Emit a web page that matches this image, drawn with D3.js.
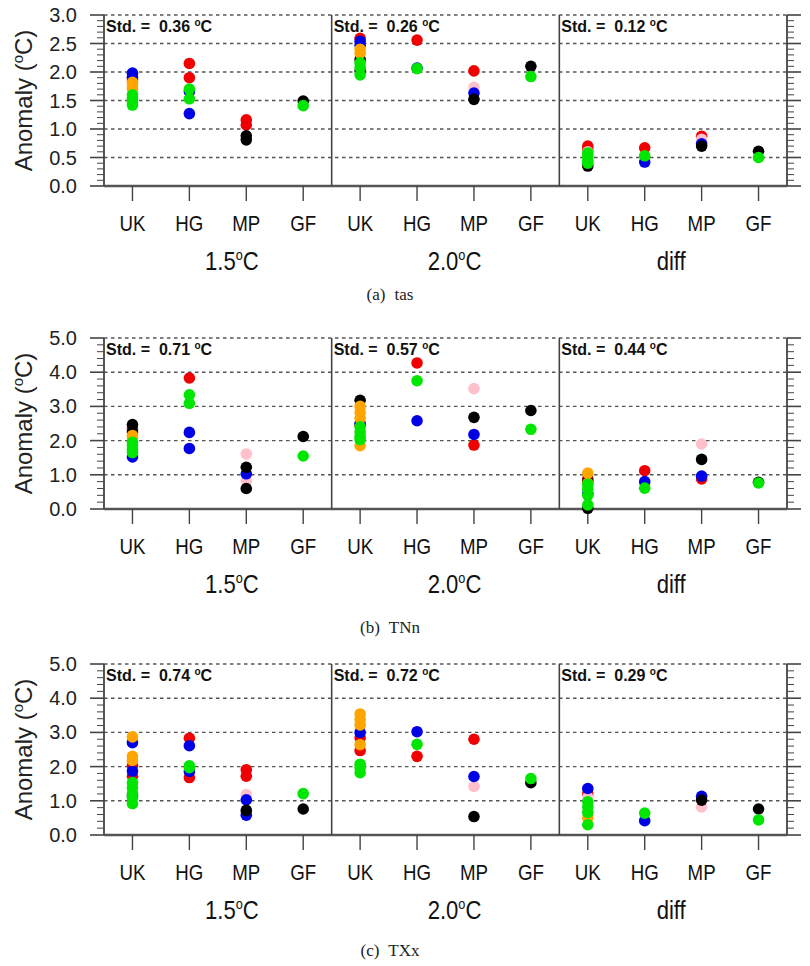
<!DOCTYPE html>
<html>
<head>
<meta charset="utf-8">
<script src="https://cdn.jsdelivr.net/npm/d3@7"></script>
<style>
  html, body { margin: 0; padding: 0; background: #fff; }
  svg { display: block; }
</style>
</head>
<body>
<script>
// ---------------- DATA ----------------
const categories = ["UK", "HG", "MP", "GF"];
const groups = [["1.5", "C"], ["2.0", "C"], ["diff", ""]];
const seriesColors = {
  red: "#f00000", pink: "#ffc0cb", blue: "#0000e6",
  black: "#000000", orange: "#ffa500", green: "#00e600"
};
const drawOrder = ["red", "pink", "blue", "black", "orange", "green"];

// [group index, category, series, value]
const tasValues = [
  [0,"UK","blue",1.98],[0,"UK","blue",1.91],[0,"UK","red",1.86],[0,"UK","orange",1.82],[0,"UK","orange",1.76],[0,"UK","orange",1.70],
  [0,"UK","green",1.60],[0,"UK","green",1.54],[0,"UK","green",1.48],[0,"UK","green",1.42],
  [0,"HG","red",2.15],[0,"HG","red",1.90],[0,"HG","blue",1.66],[0,"HG","green",1.70],[0,"HG","green",1.53],[0,"HG","blue",1.27],
  [0,"MP","red",1.16],[0,"MP","red",1.07],[0,"MP","black",0.88],[0,"MP","black",0.81],
  [0,"GF","black",1.49],[0,"GF","green",1.41],
  [1,"UK","red",2.59],[1,"UK","blue",2.54],[1,"UK","blue",2.47],[1,"UK","orange",2.40],[1,"UK","orange",2.33],[1,"UK","black",2.22],
  [1,"UK","green",2.16],[1,"UK","green",2.08],[1,"UK","black",2.02],[1,"UK","green",1.95],
  [1,"HG","red",2.56],[1,"HG","blue",2.07],[1,"HG","green",2.06],
  [1,"MP","red",2.02],[1,"MP","pink",1.73],[1,"MP","blue",1.63],[1,"MP","black",1.52],
  [1,"GF","black",2.10],[1,"GF","green",1.92],
  [2,"UK","red",0.70],[2,"UK","red",0.64],[2,"UK","pink",0.60],[2,"UK","green",0.58],[2,"UK","green",0.52],[2,"UK","black",0.35],
  [2,"UK","green",0.45],[2,"UK","green",0.40],
  [2,"HG","red",0.67],[2,"HG","green",0.53],[2,"HG","blue",0.42],
  [2,"MP","red",0.87],[2,"MP","pink",0.82],[2,"MP","blue",0.74],[2,"MP","black",0.70],
  [2,"GF","black",0.61],[2,"GF","green",0.50]
];
const tnnValues = [
  [0,"UK","black",2.47],[0,"UK","red",2.35],[0,"UK","black",2.25],[0,"UK","orange",2.15],[0,"UK","orange",2.08],[0,"UK","green",1.95],
  [0,"UK","green",1.85],[0,"UK","green",1.74],[0,"UK","green",1.65],[0,"UK","blue",1.52],
  [0,"HG","red",3.83],[0,"HG","green",3.34],[0,"HG","green",3.09],[0,"HG","blue",2.24],[0,"HG","blue",1.77],
  [0,"MP","pink",1.61],[0,"MP","black",1.22],[0,"MP","blue",1.03],[0,"MP","pink",0.82],[0,"MP","black",0.60],
  [0,"GF","black",2.12],[0,"GF","green",1.55],
  [1,"UK","black",3.18],[1,"UK","orange",3.00],[1,"UK","orange",2.82],[1,"UK","orange",2.65],[1,"UK","blue",2.50],[1,"UK","red",2.45],
  [1,"UK","green",2.40],[1,"UK","green",2.25],[1,"UK","green",2.12],[1,"UK","green",2.03],[1,"UK","orange",1.85],
  [1,"HG","red",4.27],[1,"HG","green",3.75],[1,"HG","blue",2.58],
  [1,"MP","pink",3.52],[1,"MP","black",2.68],[1,"MP","blue",2.18],[1,"MP","red",1.87],
  [1,"GF","black",2.88],[1,"GF","green",2.33],
  [2,"UK","orange",1.05],[2,"UK","red",0.88],[2,"UK","black",0.82],[2,"UK","orange",0.75],[2,"UK","green",0.72],[2,"UK","green",0.58],
  [2,"UK","blue",0.45],[2,"UK","green",0.40],[2,"UK","green",0.12],[2,"UK","black",0.02],
  [2,"HG","red",1.12],[2,"HG","blue",0.80],[2,"HG","green",0.61],
  [2,"MP","pink",1.90],[2,"MP","black",1.45],[2,"MP","red",0.88],[2,"MP","blue",0.96],
  [2,"GF","black",0.78],[2,"GF","green",0.76]
];
const txxValues = [
  [0,"UK","orange",2.87],[0,"UK","blue",2.70],[0,"UK","orange",2.30],[0,"UK","orange",2.18],[0,"UK","red",2.02],[0,"UK","blue",1.87],
  [0,"UK","red",1.72],[0,"UK","green",1.53],[0,"UK","green",1.38],[0,"UK","black",1.15],[0,"UK","green",1.22],[0,"UK","green",1.08],[0,"UK","green",0.92],
  [0,"HG","red",2.83],[0,"HG","blue",2.61],[0,"HG","green",2.02],[0,"HG","blue",1.86],[0,"HG","green",1.97],[0,"HG","red",1.68],
  [0,"MP","red",1.91],[0,"MP","red",1.72],[0,"MP","pink",1.18],[0,"MP","blue",1.03],[0,"MP","black",0.72],[0,"MP","blue",0.58],
  [0,"GF","green",1.21],[0,"GF","black",0.76],
  [1,"UK","orange",3.54],[1,"UK","orange",3.38],[1,"UK","orange",3.22],[1,"UK","blue",3.00],[1,"UK","red",2.84],[1,"UK","orange",2.64],
  [1,"UK","red",2.47],[1,"UK","green",2.07],[1,"UK","green",1.97],[1,"UK","green",1.82],
  [1,"HG","blue",3.02],[1,"HG","green",2.65],[1,"HG","red",2.30],
  [1,"MP","red",2.80],[1,"MP","blue",1.71],[1,"MP","pink",1.42],[1,"MP","black",0.54],
  [1,"GF","green",1.65],[1,"GF","black",1.53],
  [2,"UK","blue",1.36],[2,"UK","red",1.20],[2,"UK","pink",1.10],[2,"UK","green",0.97],[2,"UK","green",0.82],[2,"UK","green",0.66],
  [2,"UK","orange",0.50],[2,"UK","green",0.30],
  [2,"HG","green",0.64],[2,"HG","blue",0.42],
  [2,"MP","blue",1.13],[2,"MP","black",1.02],[2,"MP","pink",0.82],
  [2,"GF","black",0.76],[2,"GF","green",0.44]
];
const tasStd = ["0.36", "0.26", "0.12"];
const tnnStd = ["0.71", "0.57", "0.44"];
const txxStd = ["0.74", "0.72", "0.29"];
const tasTicks = [0, 0.5, 1.0, 1.5, 2.0, 2.5, 3.0];
const tempTicks = [0, 1.0, 2.0, 3.0, 4.0, 5.0];

// ---------------- LAYOUT ----------------
const W = 810, H = 966;
const plotL = 104, plotR = 787, plotH = 171;
const panels = [
  { letter: "(a)", name: "tas", top: 15, ticks: tasTicks, minor: 0.1, std: tasStd, data: tasValues, capDy: 114 },
  { letter: "(b)", name: "TNn", top: 338, ticks: tempTicks, minor: 0.2, std: tnnStd, data: tnnValues, capDy: 124 },
  { letter: "(c)", name: "TXx", top: 664, ticks: tempTicks, minor: 0.2, std: txxStd, data: txxValues, capDy: 121 }
];
const groupLabelShift = [14, 9, -2];

const svg = d3.select("body").append("svg").attr("width", W).attr("height", H);
svg.append("rect").attr("width", W).attr("height", H).attr("fill", "#fff");

const axisColor = "#444";
const subW = (plotR - plotL) / 3;

function degLabel(t, before, after, supSize, raise) {
  t.append("tspan").text(before);
  t.append("tspan").attr("font-size", supSize).attr("dy", -raise).text("o");
  t.append("tspan").attr("dy", raise).text(after);
}

panels.forEach(p => {
  const top = p.top, bottom = top + plotH;
  const ymax = p.ticks[p.ticks.length - 1];
  const y = d3.scaleLinear().domain([0, ymax]).range([bottom, top]);
  const g = svg.append("g");

  // dotted grid lines
  p.ticks.filter(v => v > 0).forEach(v => {
    g.append("line").attr("x1", plotL).attr("x2", plotR)
      .attr("y1", y(v)).attr("y2", y(v))
      .attr("stroke", "#555").attr("stroke-width", 1.4).attr("stroke-dasharray", "3.5,3.5");
  });

  // minor ticks (outward, both sides)
  const nMinor = Math.round(ymax / p.minor);
  d3.range(nMinor + 1).map(i => +(i * p.minor).toFixed(3)).forEach(v => {
    const isMajor = p.ticks.some(t => Math.abs(t - v) < 1e-6);
    const len = isMajor ? 14 : 7;
    g.append("line").attr("x1", plotL - len).attr("x2", plotL).attr("y1", y(v)).attr("y2", y(v))
      .attr("stroke", axisColor).attr("stroke-width", isMajor ? 1.6 : 1);
    g.append("line").attr("x1", plotR).attr("x2", plotR + len).attr("y1", y(v)).attr("y2", y(v))
      .attr("stroke", axisColor).attr("stroke-width", isMajor ? 1.6 : 1);
  });

  // y tick labels
  p.ticks.forEach(v => {
    g.append("text").attr("x", 77).attr("y", y(v) + 7)
      .attr("text-anchor", "end").attr("font-family", "'Liberation Sans', Arial, sans-serif")
      .attr("font-size", 20).attr("fill", "#222").text(d3.format(".1f")(v));
  });

  // y title
  const yt = g.append("text")
    .attr("transform", `translate(32,${(top + bottom) / 2}) rotate(-90)`)
    .attr("text-anchor", "middle").attr("font-family", "'Liberation Sans', Arial, sans-serif")
    .attr("font-size", 24).attr("fill", "#222");
  degLabel(yt, "Anomaly (", "C)", 15, 9);

  // axes frame
  g.append("line").attr("x1", plotL).attr("x2", plotL).attr("y1", top).attr("y2", bottom)
    .attr("stroke", axisColor).attr("stroke-width", 1.8);
  g.append("line").attr("x1", plotR).attr("x2", plotR).attr("y1", top).attr("y2", bottom)
    .attr("stroke", axisColor).attr("stroke-width", 1.8);
  g.append("line").attr("x1", plotL).attr("x2", plotR).attr("y1", bottom).attr("y2", bottom)
    .attr("stroke", "#555").attr("stroke-width", 2.4);
  [1, 2].forEach(i => {
    g.append("line").attr("x1", plotL + i * subW).attr("x2", plotL + i * subW)
      .attr("y1", top).attr("y2", bottom).attr("stroke", axisColor).attr("stroke-width", 1.6);
  });

  groups.forEach((grp, gi) => {
    const sl = plotL + gi * subW;
    const x = d3.scalePoint().domain(categories).range([sl, sl + subW]).padding(0.5);

    // bottom ticks and category labels
    categories.forEach(c => {
      g.append("line").attr("x1", x(c)).attr("x2", x(c)).attr("y1", bottom).attr("y2", bottom + 15)
        .attr("stroke", axisColor).attr("stroke-width", 1.4);
      g.append("text").attr("transform", `translate(${x(c)},${bottom + 45}) scale(0.85,1)`)
        .attr("text-anchor", "middle").attr("font-family", "'Liberation Sans', Arial, sans-serif")
        .attr("font-size", 22).attr("fill", "#111").text(c);
    });

    // group label
    const gl = g.append("text")
      .attr("transform", `translate(${sl + subW / 2 + groupLabelShift[gi]},${bottom + 84}) scale(0.85,1)`)
      .attr("text-anchor", "middle").attr("font-family", "'Liberation Sans', Arial, sans-serif")
      .attr("font-size", 26).attr("fill", "#111");
    if (grp[1]) degLabel(gl, grp[0], grp[1], 15, 10); else gl.text(grp[0]);

    // std text
    const st = g.append("text").attr("x", sl + 2).attr("y", top + 17)
      .attr("font-family", "'Liberation Sans', Arial, sans-serif").attr("font-weight", "bold")
      .attr("font-size", 16).attr("fill", "#111").attr("xml:space", "preserve");
    degLabel(st, "Std. =  " + p.std[gi] + " ", "C", 10, 6);

    // points
    const pts = p.data.filter(d => d[0] === gi)
      .slice().sort((a, b) => drawOrder.indexOf(a[2]) - drawOrder.indexOf(b[2]));
    g.selectAll(null).data(pts).enter().append("circle")
      .attr("cx", d => x(d[1])).attr("cy", d => y(d[3])).attr("r", 5.8)
      .attr("fill", d => seriesColors[d[2]]);
  });

  // caption
  const cap = g.append("text").attr("x", 390).attr("y", bottom + p.capDy)
    .attr("text-anchor", "middle").attr("font-family", "'Liberation Serif', 'Times New Roman', serif")
    .attr("font-size", 17).attr("fill", "#222");
  cap.append("tspan").text(p.letter);
  cap.append("tspan").attr("dx", 9).text(p.name);
});
</script>
</body>
</html>
